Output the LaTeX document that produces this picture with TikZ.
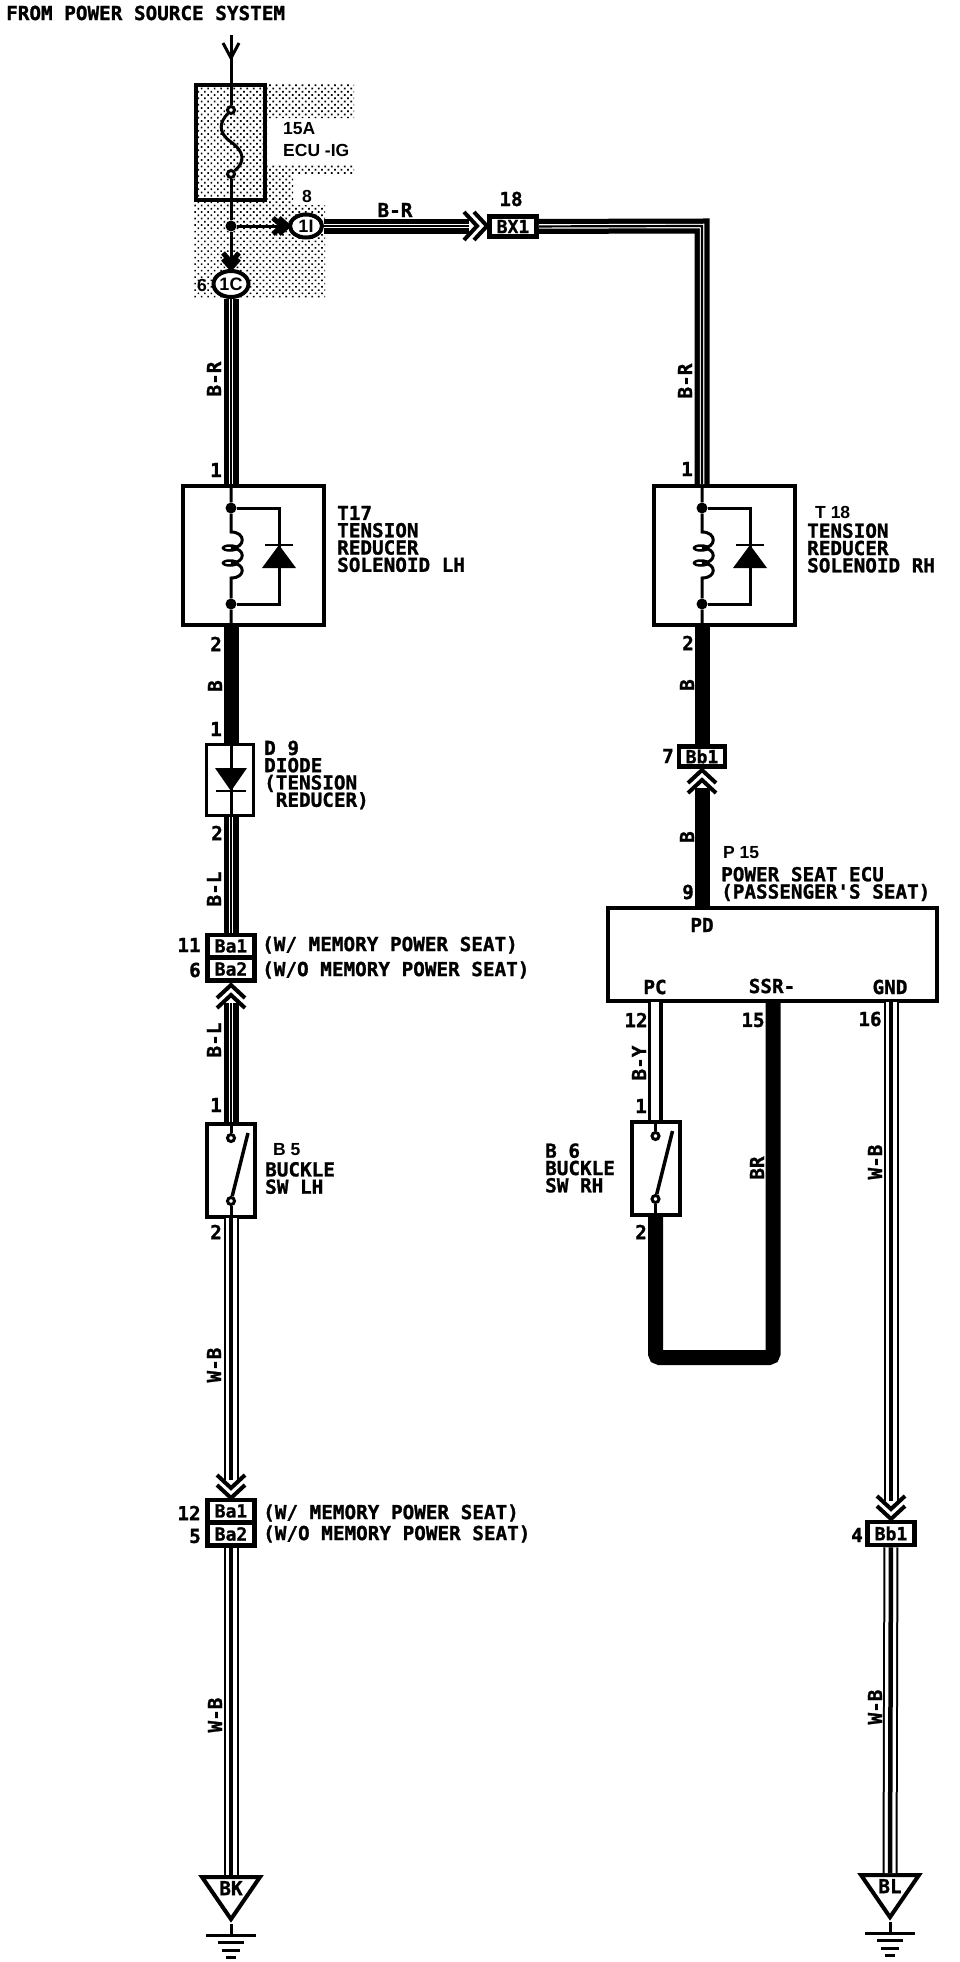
\documentclass[tikz,border=0pt]{standalone}
\usepackage{fontspec}
\setmonofont{DejaVu Sans Mono}[BoldFeatures={FakeBold=1.2}]
\setsansfont{Liberation Sans}
\usetikzlibrary{shapes.geometric, patterns.meta}
\tikzset{
    fine wire/.style = {draw, line width=3pt},
    solid wire/.style = {draw, line width=15pt},
    striped wire/.style = {draw, line width=15pt, postaction={draw=white, line width=4.5pt}, postaction={draw, line width=2.2pt}},
    white wire/.style = {draw, line width=15pt, postaction={draw=white, line width=11pt}, postaction={draw, line width=4.5pt}},
    two wire/.style = {draw, line width=15pt, postaction={draw=white, line width=8pt, transform canvas={xshift=-.7pt}}},
    unit box/.style = {draw, line width=4pt, inner sep=0pt},
    conn box/.style = {draw, fill=white, line width=4.5pt, inner sep=0pt, minimum width=47pt, font=\ttfamily\bfseries\fontsize{18}{18}\selectfont},
    oval/.style = {draw, ellipse, fill=white, line width=4pt, inner sep=0pt, font=\sffamily\bfseries\fontsize{18}{18}\selectfont},
    joint/.style = {circle, fill, inner sep=0pt, minimum size=11pt},
    term/.style = {circle, draw, fill=white, line width=3pt, inner sep=0pt, minimum size=7pt},
    lbl/.style = {inner sep=0pt, font=\ttfamily\bfseries\fontsize{19.3}{17.3}\selectfont},
    block/.style = {lbl, anchor=west, align=left},
    sanslbl/.style = {inner sep=0pt, anchor=west, font=\sffamily\bfseries\fontsize{17.5}{22}\selectfont},
    gnd tri/.style = {draw, isosceles triangle, isosceles triangle stretches, shape border rotate=-90, fill=white, line width=4pt, inner sep=0pt, minimum width=58pt, minimum height=41pt, anchor=lower side, font=\ttfamily\bfseries\fontsize{19.3}{19}\selectfont},
    chevs/.pic = {
        \draw[line width=4pt] (-13,-14) -- (0,0) -- (-13,14);
        \draw[line width=4pt] (-23,-14) -- (-10,0) -- (-23,14);
    },
    small chevs/.pic = {
        \draw[line width=5pt] (-9,-8) -- (0,0) -- (-9,8);
        \draw[line width=5pt] (-15,-8) -- (-6,0) -- (-15,8);
    },
    vee/.pic = {
        \draw[line width=3pt] (-15,-8) -- (0,0) -- (-15,8);
    },
    earth/.pic = {
        \draw[line width=3pt] (0,0) -- (0,11);
        \draw[line width=3pt] (-25,11) -- (25,11);
        \draw[line width=3pt] (-13,18.5) -- (13,18.5);
        \draw[line width=3pt] (-9,26) -- (9,26);
        \draw[line width=3pt] (-5,33) -- (5,33);
    },
    solenoid/.pic = {
        \node[unit box, minimum width=141pt, minimum height=139pt] (-box) at (22.5,71.5) {};
        \coordinate (-in) at (0,0);
        \coordinate (-out) at (0,143);
        \node[joint] (-top) at (0,24) {};
        \node[joint] (-bot) at (0,120) {};
        \draw[fine wire] (-in) -- (-top) -- (0,48) .. controls (15,48) and (15,64) .. (0,64) .. controls (15,64) and (15,79) .. (0,79) .. controls (15,79) and (15,94) .. (0,94) -- (-bot) -- (-out);
        \draw[line width=2.5pt] (-1,64) ellipse (7 and 2.5);
        \draw[line width=2.5pt] (-1,79) ellipse (7 and 2.5);
        \draw[fine wire] (-top) -- (48,24) -- (48,120) -- (-bot);
        \fill (31,84) -- (65,84) -- (48,61) -- cycle;
        \draw[line width=2.5pt] (34,61) -- (62,61);
    },
    switch/.pic = {
        \node[unit box, minimum width=48pt, minimum height=93pt] (-box) at (0,48) {};
        \coordinate (-in) at (0,0);
        \coordinate (-out) at (0,96);
        \node[term] (-a) at (0,16) {};
        \node[term] (-b) at (0,79) {};
        \draw[fine wire] (-in) -- (-a);
        \draw[fine wire] (-b) -- (-out);
        \draw[line width=3.5pt] (-b) -- (17,11);
    },
}
\begin{document}
\begin{tikzpicture}[x=1pt, y=-1pt]
	\useasboundingbox (0,0) rectangle (960,1962);
	\fill[pattern={Dots[distance=4.6pt, radius=1.15pt, angle=45]}] (194,83) rectangle (354,118) (194,118) rectangle (267,165) (194,165) rectangle (354,175) (194,175) rectangle (293,205) (194,205) rectangle (325,298);

	\coordinate (src) at (231,35);
	\node[unit box, line width=4.5pt, minimum width=69pt, minimum height=115pt] (fuse) at (230.5,142.5) {};
	\node[term] (F1) at (231,110) {};
	\node[term] (F2) at (231,174) {};
	\node[joint] (J1) at (231,226) {};
	\node[oval, minimum width=32pt, minimum height=23pt] (1I) at (306,226) {1I};
	\node[oval, minimum width=35pt, minimum height=26pt] (1C) at (231,284) {1C};
	\node[conn box, minimum height=20pt] (BX1) at (513,226.5) {BX1};
	\coordinate (BRend) at (469,226);
	\coordinate (BRbend) at (702,226);

	\pic (T17) at (231,484) {solenoid};
	\pic (T18) at (702,484) {solenoid};

	\node[unit box, line width=3.5pt, minimum width=47pt, minimum height=71pt] (D9) at (230,780) {};
	\coordinate (D9in) at (231,743);
	\coordinate (D9out) at (231,817);

	\node[conn box, minimum height=22.5pt] (Ba1) at (231,946) {Ba1};
	\node[conn box, minimum height=23pt] (Ba2) at (231,969) {Ba2};
	\coordinate (BLend) at (231,1003);
	\pic (B5) at (231,1122) {switch};
	\coordinate (WBend) at (231,1480);
	\node[conn box, minimum height=22.5pt] (Ba1b) at (231,1511) {Ba1};
	\node[conn box, minimum height=23pt] (Ba2b) at (231,1534) {Ba2};
	\node[gnd tri] (BK) at (231,1875) {BK};

	\node[conn box, minimum width=46pt, minimum height=20pt] (Bb1) at (702,756.5) {Bb1};
	\coordinate (Bend) at (702,788);
	\node[unit box, minimum width=329pt, minimum height=93pt] (ECU) at (772.5,954.5) {};
	\coordinate (ECUpd) at (702,907);
	\coordinate (ECUpc) at (655.5,1002);
	\coordinate (ECUssr) at (773,1002);
	\coordinate (ECUgnd) at (891,1002);
	\pic (B6) at (655.5,1120) {switch};
	\coordinate (BRleft) at (655.5,1357.5);
	\coordinate (BRright) at (773,1357.5);
	\coordinate (GNDend) at (891,1501);
	\node[conn box, minimum height=23pt] (Bb1b) at (891,1533.5) {Bb1};
	\node[gnd tri] (BL) at (890,1873) {BL};

	\draw[fine wire] (src) -- (F1);
	\draw[fine wire] (F1) .. controls (220,122) and (217,132) .. (231,142) .. controls (245,152) and (245,162) .. (F2);
	\draw[fine wire] (F2) -- (J1) -- (1C);
	\draw[fine wire] (J1) -- (1I);
	\draw[striped wire] (1I) -- (BRend);
	\draw[striped wire] (BX1) -- (BRbend) -- (T18-in);
	\draw[striped wire] (1C) -- (T17-in);
	\draw[solid wire] (T17-out) -- (D9in);
	\draw[fine wire] (D9in) -- (D9out);
	\draw[striped wire] (D9out) -- (Ba1);
	\draw[striped wire] (BLend) -- (B5-in);
	\draw[white wire] (B5-out) -- (WBend);
	\draw[white wire] (Ba2b) -- (BK.lower side);
	\draw[solid wire] (T18-out) -- (Bb1);
	\draw[solid wire] (ECUpd) -- (Bend);
	\draw[two wire] (ECUpc) -- (B6-in);
	\draw[solid wire, rounded corners=4pt] (B6-out) -- (BRleft) -- (BRright) -- (ECUssr);
	\draw[white wire] (ECUgnd) -- (GNDend);
	\draw[white wire] (Bb1b) -- (BL.lower side);

	\fill (215,768) -- (247,768) -- (231,791) -- cycle;
	\draw[line width=2.5pt] (216,791) -- (246,791);
	\pic at (231,58) [rotate=-90] {vee};
	\pic at (288,226) {small chevs};
	\pic at (231,268) [rotate=-90] {small chevs};
	\pic at (487,226) {chevs};
	\pic at (231,985) [rotate=90] {chevs};
	\pic at (231,1498) [rotate=-90] {chevs};
	\pic at (702,770) [rotate=90] {chevs};
	\pic at (891,1519) [rotate=-90] {chevs};
	\pic at (BK.apex) {earth};
	\pic at (BL.apex) {earth};

	\node[lbl, anchor=west] (from) at (6,13) {FROM POWER SOURCE SYSTEM};
	\node[sanslbl] (fuselbl) at (283,141) {\begin{tabular}{@{}l@{}}15A\\ECU -IG\end{tabular}};
	\node[sanslbl, anchor=center] (pin8) at (307,196) {8};
	\node[sanslbl, anchor=center] (pin6) at (202,285) {6};
	\node[lbl] (pin18) at (511,199) {18};
	\node[lbl] (brh) at (395,210) {B-R};
	\node[lbl, rotate=90] (brl) at (214,379) {B-R};
	\node[lbl, rotate=90] (brr) at (685,381) {B-R};
	\node[lbl] (t17a) at (216,470) {1};
	\node[lbl] (t18a) at (687,469) {1};
	\node[block] (t17lbl) at (337,539) {T17\\TENSION\\REDUCER\\SOLENOID LH};
	\node[sanslbl] (t18id) at (815,512) {T 18};
	\node[block] (t18lbl) at (807,548) {TENSION\\REDUCER\\SOLENOID RH};
	\node[lbl] (t17b) at (216,644) {2};
	\node[lbl] (t18b) at (688,643) {2};
	\node[lbl, rotate=90] (bl1) at (215,686) {B};
	\node[lbl, rotate=90] (br1) at (687,685) {B};
	\node[lbl] (d9a) at (216,729) {1};
	\node[block] (d9lbl) at (264,775) {D 9\\DIODE\\(TENSION\\\ REDUCER)};
	\node[lbl] (d9b) at (217,833) {2};
	\node[lbl, rotate=90] (bl2) at (214,889) {B-L};
	\node[lbl] (pin11) at (189,945) {11};
	\node[lbl] (pin6b) at (195,970) {6};
	\node[lbl, anchor=west] (memA) at (262,945) {(W/ MEMORY POWER SEAT)};
	\node[lbl, anchor=west] (memB) at (262,970) {(W/O MEMORY POWER SEAT)};
	\node[lbl, rotate=90] (bl3) at (214,1040) {B-L};
	\node[lbl] (b5a) at (216,1105) {1};
	\node[sanslbl] (b5id) at (273,1150) {B 5};
	\node[block] (b5lbl) at (265,1178) {BUCKLE\\SW LH};
	\node[lbl] (b5b) at (216,1232) {2};
	\node[lbl, rotate=90] (wb1) at (214,1365) {W-B};
	\node[lbl] (pin12) at (189,1513) {12};
	\node[lbl] (pin5) at (195,1536) {5};
	\node[lbl, anchor=west] (memC) at (263,1513) {(W/ MEMORY POWER SEAT)};
	\node[lbl, anchor=west] (memD) at (263,1534) {(W/O MEMORY POWER SEAT)};
	\node[lbl, rotate=90] (wb2) at (215,1715) {W-B};
	\node[lbl] (pin7) at (668,756) {7};
	\node[lbl, rotate=90] (br2) at (687,837) {B};
	\node[sanslbl] (p15id) at (723,853) {P 15};
	\node[block] (p15lbl) at (721,884) {POWER SEAT ECU\\(PASSENGER'S SEAT)};
	\node[lbl] (pin9) at (688,892) {9};
	\node[lbl] (pd) at (702,925) {PD};
	\node[lbl] (pc) at (655,987) {PC};
	\node[lbl] (ssr) at (772,986) {SSR-};
	\node[lbl] (gnd) at (890,987) {GND};
	\node[lbl] (pin12b) at (636,1020) {12};
	\node[lbl] (pin15) at (753,1020) {15};
	\node[lbl] (pin16) at (870,1019) {16};
	\node[lbl, rotate=90] (by) at (639,1063) {B-Y};
	\node[lbl] (b6a) at (641,1106) {1};
	\node[block] (b6lbl) at (545,1168) {B 6\\BUCKLE\\SW RH};
	\node[lbl] (b6b) at (641,1232) {2};
	\node[lbl, rotate=90] (brw) at (757,1168) {BR};
	\node[lbl, rotate=90] (wb3) at (875,1162) {W-B};
	\node[lbl] (pin4) at (857,1535) {4};
	\node[lbl, rotate=90] (wb4) at (875,1707) {W-B};
\end{tikzpicture}
\end{document}
